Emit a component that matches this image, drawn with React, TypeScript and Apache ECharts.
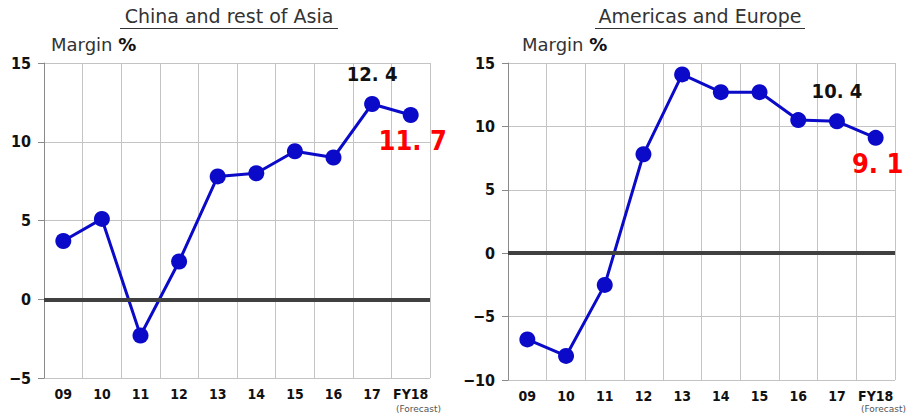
import React, { useEffect, useRef } from "react";
import * as echarts from "echarts";

// Fiscal years on the category axis
const years = ["09", "10", "11", "12", "13", "14", "15", "16", "17", "FY18"];

// Operating margin (%) by region
const asiaMargin = [3.7, 5.1, -2.3, 2.4, 7.8, 8.0, 9.4, 9.0, 12.4, 11.7];
const westMargin = [-6.8, -8.1, -2.5, 7.8, 14.1, 12.7, 12.7, 10.5, 10.4, 9.1];

const panelTitles = ["China and rest of Asia", "Americas and Europe"];

const NARROW = "'DejaVu Sans Condensed', 'Liberation Sans Narrow', sans-serif";
const PLAIN = "'DejaVu Sans', sans-serif";
const BLUE = "#0a0ac8";

const fmtVal = (v: number) => v.toFixed(1).replace(".", ". ");
const fmtTick = (v: number) => String(v).replace("-", "\u2212");

function labelled(values: number[]) {
  const n = values.length;
  return values.map((v, i) => {
    if (i === n - 2) {
      return {
        value: v,
        label: {
          show: true,
          position: "top",
          distance: 12,
          formatter: fmtVal(v),
          color: "#111",
          fontFamily: NARROW,
          fontWeight: "bold",
          fontSize: 20,
        },
      };
    }
    if (i === n - 1) {
      return {
        value: v,
        label: {
          show: true,
          position: "bottom",
          distance: 4,
          offset: [2, 0],
          formatter: fmtVal(v),
          color: "#ff0000",
          fontFamily: NARROW,
          fontWeight: "bold",
          fontSize: 27,
        },
      };
    }
    return v;
  });
}

export default function App() {
  const ref = useRef<HTMLDivElement>(null);

  useEffect(() => {
    if (!ref.current) return;
    const chart = echarts.init(ref.current, null, { renderer: "svg" });

    const grids = [
      { left: 44, right: 477, top: 63, bottom: 38 },
      { left: 508, right: 12, top: 63, bottom: 36 },
    ];

    const xAxes = grids.map((_, gi) => ({
      type: "category",
      gridIndex: gi,
      data: years,
      boundaryGap: true,
      axisLine: { show: false },
      axisTick: { show: false },
      axisLabel: {
        interval: 0,
        color: "#111",
        fontFamily: NARROW,
        fontWeight: "bold",
        fontSize: 14,
        margin: 9,
        lineHeight: 14,
      },
      splitLine: { show: true, interval: 0, lineStyle: { color: "#c4c4c4", width: 1 } },
    }));

    const yRanges = [
      { min: -5, max: 15 },
      { min: -10, max: 15 },
    ];

    const yAxes = yRanges.map((r, gi) => ({
      type: "value",
      gridIndex: gi,
      min: r.min,
      max: r.max,
      interval: 5,
      axisLine: { show: true, lineStyle: { color: "#8a8a8a", width: 1 } },
      axisTick: { show: true, length: 6, lineStyle: { color: "#8a8a8a" } },
      axisLabel: {
        color: "#111",
        fontFamily: NARROW,
        fontWeight: "bold",
        fontSize: 16,
        margin: 13,
        formatter: fmtTick,
      },
      splitLine: { show: true, lineStyle: { color: "#c4c4c4", width: 1 } },
    }));

    const zeroLine = (gi: number) => ({
      type: "line",
      xAxisIndex: gi,
      yAxisIndex: gi,
      data: [],
      z: 1,
      silent: true,
      markLine: {
        silent: true,
        symbol: "none",
        label: { show: false },
        lineStyle: { color: "#404040", width: 4, type: "solid" },
        data: [{ yAxis: 0 }],
      },
    });

    const marginSeries = (gi: number, values: any[]) => ({
      type: "line",
      xAxisIndex: gi,
      yAxisIndex: gi,
      data: values,
      z: 3,
      symbol: "circle",
      symbolSize: 16,
      lineStyle: { color: BLUE, width: 3 },
      itemStyle: { color: BLUE },
    });

    const titleText = (x: number, text: string) => ({
      type: "text",
      x,
      y: 6,
      style: {
        text,
        fill: "#333",
        font: `19px ${PLAIN}`,
        textAlign: "center",
      },
    });

    const underline = (x1: number, x2: number) => ({
      type: "line",
      shape: { x1, y1: 28.5, x2, y2: 28.5 },
      style: { stroke: "#333", lineWidth: 1 },
    });

    const marginCaption = (x: number) => ({
      type: "text",
      x,
      y: 35,
      style: {
        text: "{a|Margin }{b|%}",
        rich: {
          a: { fill: "#333", fontSize: 18, fontFamily: PLAIN },
          b: { fill: "#111", fontSize: 18, fontWeight: "bold", fontFamily: PLAIN },
        },
      },
    });

    const forecast = (x: number, y: number) => ({
      type: "text",
      x,
      y,
      style: {
        text: "(Forecast)",
        fill: "#555",
        font: `9px ${PLAIN}`,
        textAlign: "right",
        textVerticalAlign: "top",
      },
    });

    chart.setOption({
      animation: false,
      backgroundColor: "#fff",
      grid: grids,
      xAxis: xAxes,
      yAxis: yAxes,
      series: [
        zeroLine(0),
        zeroLine(1),
        marginSeries(0, labelled(asiaMargin)),
        marginSeries(1, labelled(westMargin)),
      ],
      graphic: [
        titleText(229, panelTitles[0]),
        underline(120, 338),
        titleText(700, panelTitles[1]),
        underline(595, 805),
        marginCaption(51),
        marginCaption(522),
        forecast(441, 404),
        forecast(906, 404),
      ],
    });

    return () => chart.dispose();
  }, []);

  return (
    <div
      ref={ref}
      style={{ position: "fixed", left: 0, top: 0, width: 907, height: 416 }}
    />
  );
}
